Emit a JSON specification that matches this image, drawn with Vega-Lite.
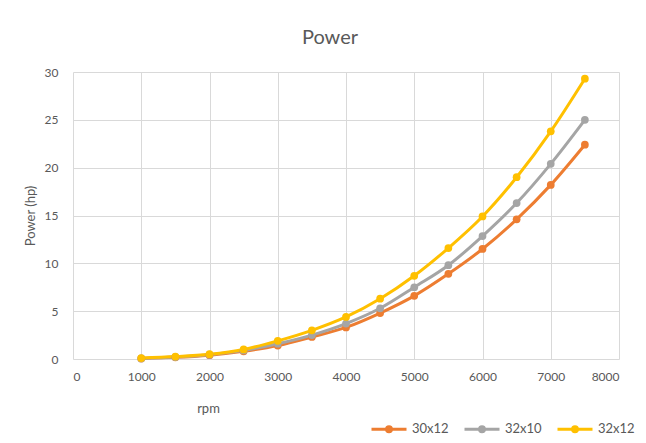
{
  "$schema": "https://vega.github.io/schema/vega-lite/v6.json",
  "width": 546,
  "height": 287,
  "autosize": {"type": "none"},
  "padding": {"left": 73, "top": 72, "right": 27, "bottom": 84},
  "background": "white",
  "title": {"text": "Power", "fontSize": 20, "font": "Lato", "fontWeight": "normal", "color": "#595959", "offset": 18, "dx": -16},
  "data": {"values": [
    {"rpm": 1000, "series": "30x12", "hp": 0.05},
    {"rpm": 1500, "series": "30x12", "hp": 0.17},
    {"rpm": 2000, "series": "30x12", "hp": 0.4},
    {"rpm": 2500, "series": "30x12", "hp": 0.8},
    {"rpm": 3000, "series": "30x12", "hp": 1.4},
    {"rpm": 3500, "series": "30x12", "hp": 2.3},
    {"rpm": 4000, "series": "30x12", "hp": 3.3},
    {"rpm": 4500, "series": "30x12", "hp": 4.8},
    {"rpm": 5000, "series": "30x12", "hp": 6.6},
    {"rpm": 5500, "series": "30x12", "hp": 8.9},
    {"rpm": 6000, "series": "30x12", "hp": 11.5},
    {"rpm": 6500, "series": "30x12", "hp": 14.6},
    {"rpm": 7000, "series": "30x12", "hp": 18.2},
    {"rpm": 7500, "series": "30x12", "hp": 22.4},
    {"rpm": 1000, "series": "32x10", "hp": 0.06},
    {"rpm": 1500, "series": "32x10", "hp": 0.2},
    {"rpm": 2000, "series": "32x10", "hp": 0.45},
    {"rpm": 2500, "series": "32x10", "hp": 0.9},
    {"rpm": 3000, "series": "32x10", "hp": 1.6},
    {"rpm": 3500, "series": "32x10", "hp": 2.5},
    {"rpm": 4000, "series": "32x10", "hp": 3.7},
    {"rpm": 4500, "series": "32x10", "hp": 5.3},
    {"rpm": 5000, "series": "32x10", "hp": 7.5},
    {"rpm": 5500, "series": "32x10", "hp": 9.8},
    {"rpm": 6000, "series": "32x10", "hp": 12.85},
    {"rpm": 6500, "series": "32x10", "hp": 16.3},
    {"rpm": 7000, "series": "32x10", "hp": 20.4},
    {"rpm": 7500, "series": "32x10", "hp": 25.0},
    {"rpm": 1000, "series": "32x12", "hp": 0.1},
    {"rpm": 1500, "series": "32x12", "hp": 0.25},
    {"rpm": 2000, "series": "32x12", "hp": 0.5},
    {"rpm": 2500, "series": "32x12", "hp": 1.0},
    {"rpm": 3000, "series": "32x12", "hp": 1.9},
    {"rpm": 3500, "series": "32x12", "hp": 3.0},
    {"rpm": 4000, "series": "32x12", "hp": 4.4},
    {"rpm": 4500, "series": "32x12", "hp": 6.3},
    {"rpm": 5000, "series": "32x12", "hp": 8.7},
    {"rpm": 5500, "series": "32x12", "hp": 11.6},
    {"rpm": 6000, "series": "32x12", "hp": 14.9},
    {"rpm": 6500, "series": "32x12", "hp": 19.0},
    {"rpm": 7000, "series": "32x12", "hp": 23.8},
    {"rpm": 7500, "series": "32x12", "hp": 29.3}
  ]},
  "mark": {"type": "line", "interpolate": "monotone", "strokeWidth": 3, "point": {"filled": true, "size": 60, "opacity": 1}},
  "encoding": {
    "x": {"field": "rpm", "type": "quantitative", "scale": {"domain": [0, 8000]},
      "axis": {"values": [0,1000,2000,3000,4000,5000,6000,7000,8000], "format": "d", "title": "rpm", "titleX": 135, "titleY": 43, "titleAnchor": "middle", "labelPadding": 12}},
    "y": {"field": "hp", "type": "quantitative", "scale": {"domain": [0, 30]},
      "axis": {"values": [0,5,10,15,20,25,30], "title": "Power (hp)", "titlePadding": 7, "labelPadding": 15}},
    "color": {"field": "series", "type": "nominal",
      "scale": {"domain": ["30x12", "32x10", "32x12"], "range": ["#ED7D31", "#A5A5A5", "#FFC000"]},
      "legend": {"title": null, "orient": "none", "legendX": 297, "legendY": 338, "direction": "horizontal", "columnPadding": 9}}
  },
  "config": {
    "font": "Lato",
    "view": {"stroke": null},
    "axis": {
      "grid": true, "gridColor": "#D9D9D9", "gridWidth": 1,
      "domain": false, "ticks": false,
      "labelFont": "Lato", "labelFontSize": 12, "labelColor": "#595959",
      "titleFont": "Lato", "titleFontSize": 13, "titleFontWeight": "normal", "titleColor": "#595959"
    },
    "legend": {"labelFont": "Lato", "labelFontSize": 13, "labelColor": "#595959", "labelOffset": 4,
      "symbolType": "M-1,0L1,0M-0.14,0A0.14,0.14 0 1,0 0.14,0A0.14,0.14 0 1,0 -0.14,0Z",
      "symbolStrokeWidth": 3, "symbolSize": 1225}
  }
}
